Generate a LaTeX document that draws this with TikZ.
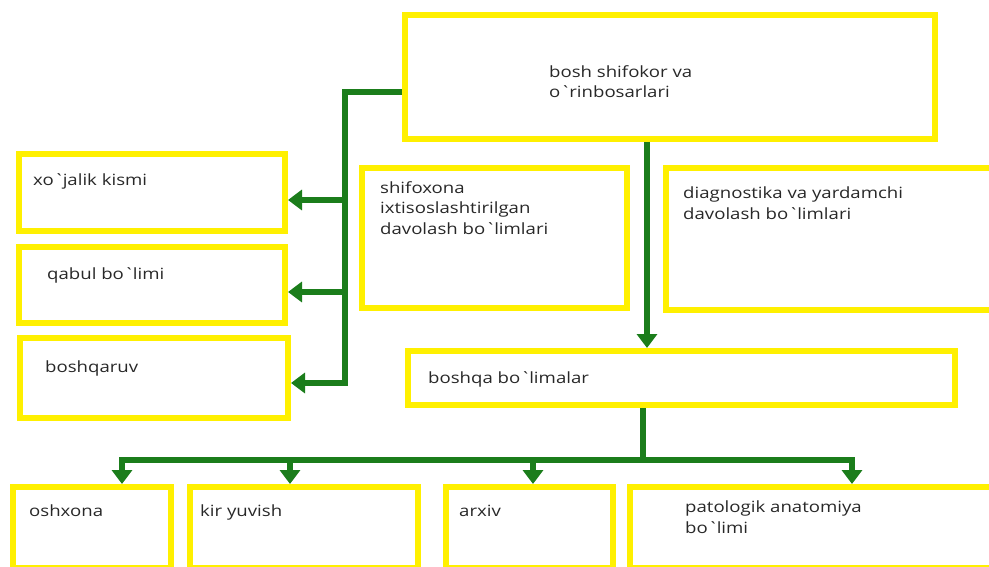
\documentclass[tikz,border=0pt]{standalone}
\usepackage{fontspec}
\setmainfont[FakeStretch=1.2]{Open Sans}
\usetikzlibrary{arrows.meta}
\definecolor{ylw}{RGB}{255,240,0}
\definecolor{grn}{RGB}{27,125,27}
\definecolor{txtc}{RGB}{40,40,40}
\newcommand\tck{\textasciigrave}
\tikzset{
  ybox/.style={draw=ylw, line width=6pt, rectangle, anchor=north west, inner sep=0pt, outer sep=0pt},
  lbl/.style={anchor=north west, inner sep=0pt, text=txtc, font=\fontsize{15.5}{20.5}\selectfont, align=left},
  gline/.style={draw=grn, line width=6pt},
  garr/.style={gline, shorten >=3pt, -{Triangle[width=20pt,length=14pt]}},
}
\begin{document}
\begin{tikzpicture}[x=1pt,y=-1pt]
\useasboundingbox (0,0) rectangle (989,567);
\fill[white] (0,0) rectangle (989,567);
% boxes
\node[ybox, minimum width=530pt, minimum height=124pt] (top) at (405,15) {};
\node[ybox, minimum width=266pt, minimum height=77pt] (xoj) at (19,154) {};
\node[ybox, minimum width=266pt, minimum height=76pt] (qab) at (19,247) {};
\node[ybox, minimum width=268pt, minimum height=80pt] (bsq) at (20,338) {};
\node[ybox, minimum width=265pt, minimum height=140pt] (shf) at (362,168) {};
\node[ybox, minimum width=330pt, minimum height=142pt] (dia) at (666,168) {};
\node[ybox, minimum width=547pt, minimum height=54pt] (bo) at (408,351) {};
\node[ybox, minimum width=158pt, minimum height=81pt] (osh) at (13,487) {};
\node[ybox, minimum width=228pt, minimum height=81pt] (kir) at (190,487) {};
\node[ybox, minimum width=167pt, minimum height=81pt] (arx) at (446,487) {};
\node[ybox, minimum width=370pt, minimum height=81pt] (pat) at (630,487) {};
% texts
\node[lbl] (ttop) at (549,65) {bosh shifokor va\\o\tck{}rinbosarlari};
\node[lbl] (txoj) at (33,173) {xo\tck{}jalik kismi};
\node[lbl] (tqab) at (47,267) {qabul bo\tck{}limi};
\node[lbl] (tbsq) at (45,361) {boshqaruv};
\node[lbl] (tshf) at (380,181) {shifoxona\\ixtisoslashtirilgan\\davolash bo\tck{}limlari};
\node[lbl] (tdia) at (683,187) {diagnostika va yardamchi\\davolash bo\tck{}limlari};
\node[lbl] (tbo) at (428,371) {boshqa bo\tck{}limalar};
\node[lbl] (tosh) at (29,505) {oshxona};
\node[lbl] (tkir) at (200,505) {kir yuvish};
\node[lbl] (tarx) at (459,505) {arxiv};
\node[lbl] (tpat) at (685,501) {patologik anatomiya\\bo\tck{}limi};
% connector coordinates
\coordinate (j1) at (345,92);
\coordinate (xa) at ([yshift=-7.5pt]xoj.east);
\coordinate (qa) at ([yshift=-7pt]qab.east);
\coordinate (ba) at ([yshift=-5pt]bsq.east);
\coordinate (v1) at (647,0);
\coordinate (h1) at (643,460);
\coordinate (a1) at (122,460);
\coordinate (a2) at (290,460);
\coordinate (a3) at (533,460);
\coordinate (a4) at (852,460);
% left tree
\draw[garr, shorten <=3pt] (top.west |- j1) -- (j1) |- (ba);
\draw[garr] (j1 |- xa) -- (xa);
\draw[garr] (j1 |- qa) -- (qa);
% centre down
\draw[garr, shorten <=3pt] (top.south -| v1) -- (bo.north -| v1);
% bottom tree
\draw[gline, shorten <=3pt] (bo.south -| h1) -- (h1);
\draw[gline] (a2) -- (a3);
\draw[garr] (a2) -- (a1) -- (a1 |- osh.north);
\draw[garr] (a3) -- (a4) -- (a4 |- pat.north);
\draw[garr] (a2) -- (a2 |- kir.north);
\draw[garr] (a3) -- (a3 |- arx.north);
\end{tikzpicture}
\end{document}
